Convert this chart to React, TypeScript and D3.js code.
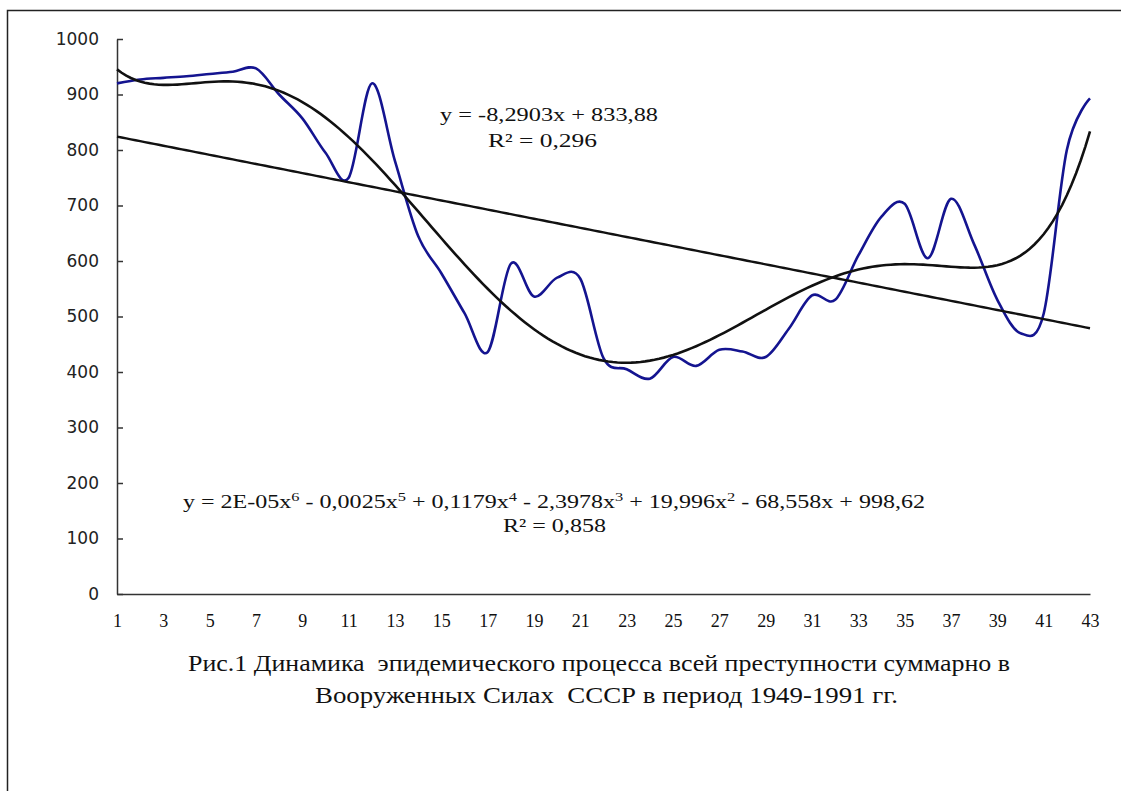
import React, { useEffect, useRef } from 'react'
import * as d3 from 'd3'

// period numbers (1 = 1949 ... 43 = 1991)
const periods = [
    1, 2, 3, 4, 5, 6, 7, 8, 9, 10, 11, 12, 13, 14, 15, 16, 17, 18, 19, 20, 21, 22,
    23, 24, 25, 26, 27, 28, 29, 30, 31, 32, 33, 34, 35, 36, 37, 38, 39, 40, 41, 42, 43
]

// total crime level per period
const crimeLevel = [
    920, 927, 930, 933, 937, 941, 947, 900, 857, 795,
    750, 920, 780, 645, 578, 506, 436, 595, 536, 570,
    568, 425, 405, 388, 427, 411, 440, 437, 427, 478,
    538, 530, 610, 680, 703, 605, 712, 630, 530, 470,
    505, 800, 893
]

const yTicks = [0, 100, 200, 300, 400, 500, 600, 700, 800, 900, 1000]
const xTickLabels = [1, 3, 5, 7, 9, 11, 13, 15, 17, 19, 21, 23, 25, 27, 29, 31, 33, 35, 37, 39, 41, 43]

const linearEq = 'y = -8,2903x + 833,88'
const linearR2 = 'R² = 0,296'
// polynomial equation: text pieces and their exponents
const polyParts = ['y = 2E-05x', ' - 0,0025x', ' + 0,1179x', ' - 2,3978x', ' + 19,996x', ' - 68,558x + 998,62']
const polyExps = ['6', '5', '4', '3', '2', '']
const polyR2 = 'R² = 0,858'

const captionLines = [
    'Рис.1 Динамика  эпидемического процесса всей преступности суммарно в',
    'Вооруженных Силах  СССР в период 1949-1991 гг.'
]

const SERIF = '"Liberation Serif", "Times New Roman", serif'
const SANS = '"DejaVu Sans", Verdana, sans-serif'

// least squares polynomial, x is rescaled to [-1, 1] to keep it stable
const polyfit = (xs: number[], ys: number[], deg: number) => {
    const n = deg + 1
    const cx = (d3.max(xs)! + d3.min(xs)!) / 2
    const sx = (d3.max(xs)! - d3.min(xs)!) / 2
    const t = xs.map((x) => (x - cx) / sx)
    const A: number[][] = Array.from({ length: n }, () => new Array(n + 1).fill(0))
    t.forEach((ti, k) => {
        for (let r = 0; r < n; r++) {
            for (let c = 0; c < n; c++) A[r][c] += ti ** (r + c)
            A[r][n] += ti ** r * ys[k]
        }
    })
    for (let col = 0; col < n; col++) {
        let piv = col
        for (let r = col + 1; r < n; r++) if (Math.abs(A[r][col]) > Math.abs(A[piv][col])) piv = r
        ;[A[col], A[piv]] = [A[piv], A[col]]
        for (let r = 0; r < n; r++) {
            if (r === col) continue
            const f = A[r][col] / A[col][col]
            for (let c = col; c <= n; c++) A[r][c] -= f * A[col][c]
        }
    }
    const coef = A.map((row, i) => row[n] / row[i])
    return (x: number) => coef.reduce((s, a, j) => s + a * ((x - cx) / sx) ** j, 0)
}

const App = () => {
    const ref = useRef<SVGSVGElement>(null)

    useEffect(() => {
        const width = 1121
        const height = 791
        const svg = d3.select(ref.current)
        svg.selectAll('*').remove()

        const left = 117, right = 1090, top = 39, bottom = 594

        const x = d3.scaleLinear().domain([1, 43]).range([left, right])
        const y = d3.scaleLinear().domain([0, 1000]).range([bottom, top])

        // outer frame (only left and top edges are visible)
        svg.append('path')
            .attr('d', `M7.5,${height} V10.5 H${width}`)
            .attr('fill', 'none')
            .attr('stroke', '#222')
            .attr('stroke-width', 1.5)

        // y axis, ticks pointing inward
        const yAxis = svg.append('g')
            .attr('transform', `translate(${left},0)`)
            .call(d3.axisLeft(y).tickValues(yTicks).tickFormat(d3.format('d'))
                .tickSizeInner(-6).tickSizeOuter(0).tickPadding(18))
        yAxis.select('.domain').attr('stroke', '#333').attr('stroke-width', 1.5)
        yAxis.selectAll('.tick line').attr('stroke', '#333').attr('stroke-width', 1.5)
        yAxis.selectAll('.tick text')
            .attr('font-family', SANS)
            .attr('font-size', 17)
            .attr('fill', '#222')

        // x axis, no tick marks
        const xAxis = svg.append('g')
            .attr('transform', `translate(0,${bottom})`)
            .call(d3.axisBottom(x).tickValues(xTickLabels).tickSize(0).tickPadding(20))
        xAxis.select('.domain').attr('stroke', '#333').attr('stroke-width', 1.5)
        xAxis.selectAll('.tick text')
            .attr('font-family', SERIF)
            .attr('font-size', 18)
            .attr('fill', '#111')

        const data = periods.map((p, i) => ({ p, v: crimeLevel[i] }))

        // actual series, smoothed like the original
        const line = d3.line<{ p: number; v: number }>()
            .x((d) => x(d.p))
            .y((d) => y(d.v))
            .curve(d3.curveCardinal.tension(0))
        svg.append('path')
            .datum(data)
            .attr('d', line)
            .attr('fill', 'none')
            .attr('stroke', '#141490')
            .attr('stroke-width', 2.6)

        // trend lines fitted to the series
        const lin = polyfit(periods, crimeLevel, 1)
        const poly = polyfit(periods, crimeLevel, 6)
        const fine = d3.range(1, 43.0001, 0.2)
        const trend = (f: (v: number) => number) =>
            d3.line<number>().x((d) => x(d)).y((d) => y(f(d)))(fine)

        svg.append('path')
            .attr('d', trend(lin))
            .attr('fill', 'none')
            .attr('stroke', '#111')
            .attr('stroke-width', 2.4)
        svg.append('path')
            .attr('d', trend(poly))
            .attr('fill', 'none')
            .attr('stroke', '#111')
            .attr('stroke-width', 2.6)

        // trendline labels
        const label = (txt: string, x0: number, y0: number, len: number) =>
            svg.append('text')
                .attr('x', x0)
                .attr('y', y0)
                .attr('font-family', SERIF)
                .attr('font-size', 19)
                .attr('fill', '#111')
                .attr('textLength', len)
                .attr('lengthAdjust', 'spacingAndGlyphs')
                .text(txt)

        label(linearEq, 440, 121, 218)
        label(linearR2, 488, 147, 109)

        const pt = svg.append('text')
            .attr('x', 183)
            .attr('y', 508)
            .attr('font-family', SERIF)
            .attr('font-size', 19)
            .attr('fill', '#111')
            .attr('textLength', 742)
            .attr('lengthAdjust', 'spacingAndGlyphs')
        polyParts.forEach((part, i) => {
            pt.append('tspan').attr('dy', i === 0 ? 0 : 7).text(part)
            if (polyExps[i]) {
                pt.append('tspan').attr('dy', -7).attr('font-size', 13).text(polyExps[i])
            }
        })
        label(polyR2, 503, 532, 103)

        // caption
        const capX = [188, 315]
        const capLen = [822, 583]
        const capY = [671, 703]
        captionLines.forEach((c, i) => {
            svg.append('text')
                .attr('x', capX[i])
                .attr('y', capY[i])
                .attr('font-family', SERIF)
                .attr('font-size', 24)
                .attr('fill', '#111')
                .attr('textLength', capLen[i])
                .attr('lengthAdjust', 'spacingAndGlyphs')
                .style('white-space', 'pre')
                .text(c)
        })
    }, [])

    return (
        <svg
            ref={ref}
            width={1121}
            height={791}
            style={{ position: 'absolute', left: 0, top: 0, background: '#fff' }}
        />
    )
}

export default App
